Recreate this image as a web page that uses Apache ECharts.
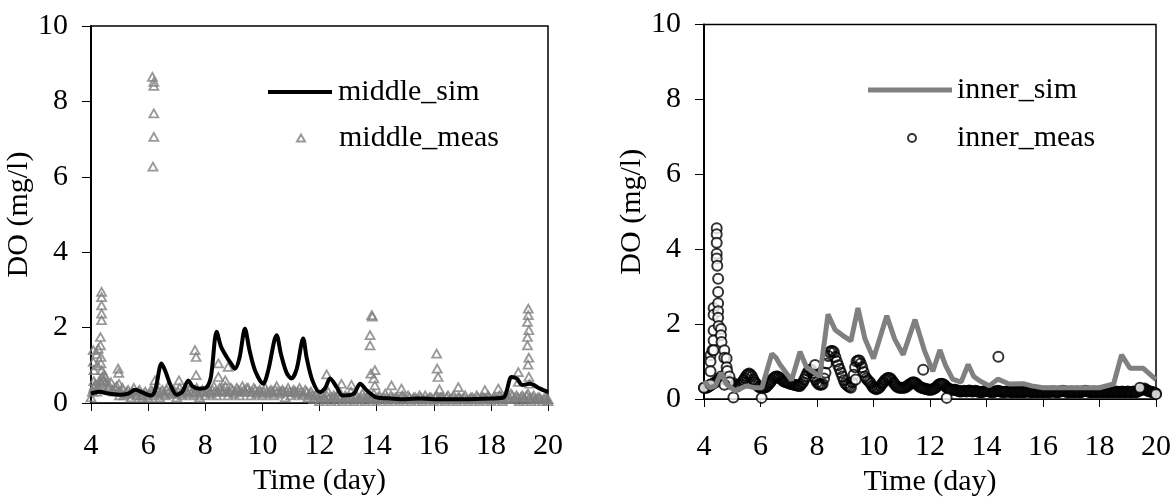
<!DOCTYPE html>
<html>

<head>
	<meta charset="UTF-8">
	<title></title>
	<style>
		html, body { margin: 0; padding: 0; background: #fff; }
		#chart { width: 1174px; height: 502px; }
	</style>
	<script src="https://cdn.jsdelivr.net/npm/echarts@6/dist/echarts.min.js"></script>
</head>

<body>
	<div id="chart"></div>
	<script>
		// tick labels shared by both panels
		var dayTicks = [4, 6, 8, 10, 12, 14, 16, 18, 20];
		var doTicks = [0, 2, 4, 6, 8, 10];

		// simulated DO, [day, mg/l], read at the turning points of the curves
		var middleSim = [
			[4.0, 0.25], [4.3, 0.3], [4.6, 0.25], [5.0, 0.22], [5.3, 0.25], [5.55, 0.35], [5.8, 0.28],
			[6.1, 0.2], [6.25, 0.35], [6.47, 1.05], [6.6, 0.85], [6.8, 0.45], [7.0, 0.22], [7.2, 0.3],
			[7.41, 0.6], [7.55, 0.45], [7.8, 0.38], [8.05, 0.42], [8.2, 0.7], [8.4, 1.89], [8.55, 1.5],
			[8.75, 1.22], [8.9, 1.05], [9.04, 0.91], [9.2, 1.2], [9.39, 1.97], [9.55, 1.4], [9.75, 0.85],
			[10.03, 0.51], [10.2, 0.85], [10.5, 1.8], [10.65, 1.3], [10.85, 0.8], [11.02, 0.65], [11.2, 0.9],
			[11.43, 1.71], [11.55, 1.2], [11.75, 0.6], [12.01, 0.29], [12.2, 0.4], [12.37, 0.65], [12.6, 0.42],
			[12.8, 0.2], [13.2, 0.25], [13.42, 0.51], [13.65, 0.34], [14.0, 0.15], [14.5, 0.12], [15.0, 0.1],
			[15.5, 0.12], [16.0, 0.1], [17.0, 0.1], [18.0, 0.12], [18.45, 0.15], [18.72, 0.69], [18.9, 0.65],
			[19.1, 0.48], [19.37, 0.51], [19.72, 0.38], [20.0, 0.29]
		];
		var innerSim = [
			[4.0, 0.48], [4.2, 0.3], [4.4, 0.35], [4.6, 0.7], [4.8, 0.4], [5.1, 0.22], [5.5, 0.35], [5.8, 0.3],
			[6.05, 0.3], [6.4, 1.21], [6.55, 1.1], [6.69, 0.92], [7.1, 0.5], [7.4, 1.26], [7.63, 0.85], [8.1, 0.6],
			[8.39, 2.26], [8.64, 1.85], [8.9, 1.7], [9.2, 1.55], [9.45, 2.43], [9.7, 1.6], [10.0, 1.08],
			[10.47, 2.22], [10.75, 1.6], [11.05, 1.18], [11.47, 2.12], [11.8, 1.3], [12.1, 0.74], [12.35, 1.31],
			[12.55, 0.9], [12.8, 0.53], [13.1, 0.45], [13.35, 0.92], [13.55, 0.6], [13.77, 0.48], [14.1, 0.35],
			[14.4, 0.53], [14.8, 0.4], [15.3, 0.41], [15.6, 0.35], [16.0, 0.3], [17.0, 0.3], [18.0, 0.3],
			[18.5, 0.4], [18.78, 1.18], [19.08, 0.82], [19.55, 0.82], [19.8, 0.65], [20.0, 0.52]
		];

		// measured DO along the bottom: readings every 0.1 day from day 4.0,
		// and the in-between readings every 0.1 day from day 4.05
		var bandStep = 0.1;
		var middleMeasBand = [
			0.15, 0.4, 0.3, 0.6, 0.45, 0.7, 0.4, 0.55, 0.3, 0.45,
			0.2, 0.4, 0.25, 0.35, 0.15, 0.4, 0.2, 0.35, 0.15, 0.3,
			0.15, 0.35, 0.2, 0.4, 0.15, 0.35, 0.2, 0.45, 0.25, 0.35,
			0.15, 0.4, 0.2, 0.35, 0.25, 0.45, 0.2, 0.4, 0.15, 0.35,
			0.2, 0.4, 0.25, 0.45, 0.2, 0.4, 0.3, 0.45, 0.2, 0.4,
			0.25, 0.4, 0.2, 0.45, 0.3, 0.4, 0.2, 0.4, 0.25, 0.35,
			0.2, 0.4, 0.25, 0.35, 0.2, 0.45, 0.25, 0.35, 0.15, 0.4,
			0.2, 0.35, 0.25, 0.4, 0.2, 0.35, 0.15, 0.3, 0.1, 0.25,
			0.05, 0.25, 0.1, 0.3, 0.05, 0.2, 0.1, 0.3, 0.05, 0.2,
			0.1, 0.3, 0.05, 0.2, 0.1, 0.25, 0.05, 0.2, 0.1, 0.25,
			0.05, 0.2, 0.1, 0.25, 0.05, 0.2, 0.1, 0.15, 0.05, 0.2,
			0.1, 0.2, 0.05, 0.15, 0.1, 0.2, 0.05, 0.2, 0.1, 0.15,
			0.05, 0.2, 0.1, 0.15, 0.05, 0.2, 0.1, 0.2, 0.05, 0.15,
			0.1, 0.2, 0.05, 0.15, 0.1, 0.2, 0.05, 0.15, 0.1, 0.2,
			0.05, 0.15, 0.1, 0.2, 0.05, 0.2, 0.1, 0.25, 0.1, 0.2,
			0.05, 0.2, 0.1, 0.25, 0.05, 0.2, 0.1, 0.15, 0.05, 0.15,
			0.05
		];
		var middleMeasBand2 = [
			0.3, 0.5, 0.45, 0.55, 0.6, 0.5, 0.45, 0.35, 0.4, 0.3,
			0.3, 0.2, 0.3, 0.25, 0.3, 0.25, 0.3, 0.2, 0.25, 0.2,
			0.25, 0.3, 0.25, 0.3, 0.3, 0.25, 0.35, 0.3, 0.3, 0.25,
			0.3, 0.25, 0.3, 0.3, 0.35, 0.3, 0.3, 0.25, 0.3, 0.3,
			0.3, 0.3, 0.35, 0.3, 0.3, 0.35, 0.35, 0.3, 0.3, 0.35,
			0.3, 0.35, 0.3, 0.35, 0.4, 0.3, 0.3, 0.35, 0.3, 0.3,
			0.3, 0.3, 0.3, 0.3, 0.35, 0.3, 0.3, 0.3, 0.3, 0.3,
			0.3, 0.3, 0.3, 0.3, 0.25, 0.3, 0.25, 0.2, 0.2, 0.15,
			0.15, 0.15, 0.2, 0.15, 0.15, 0.15, 0.2, 0.15, 0.1, 0.15,
			0.15, 0.15, 0.15, 0.1, 0.15, 0.15, 0.15, 0.15, 0.15, 0.1,
			0.15, 0.1, 0.15, 0.15, 0.1, 0.15, 0.15, 0.1, 0.15, 0.15,
			0.1, 0.15, 0.1, 0.15, 0.1, 0.15, 0.1, 0.1, 0.15, 0.1,
			0.15, 0.1, 0.15, 0.1, 0.15, 0.1, 0.15, 0.1, 0.15, 0.1,
			0.15, 0.1, 0.1, 0.15, 0.1, 0.15, 0.1, 0.15, 0.1, 0.15,
			0.1, 0.15, 0.1, 0.15, 0.1, 0.15, 0.15, 0.2, 0.15, 0.15,
			0.15, 0.15, 0.2, 0.15, 0.15, 0.1, 0.15, 0.1, 0.1, 0.1
		];
		var innerMeasBand = [
			0.3, 0.3, 0.35, 0.4, 0.45, 0.5, 0.6, 0.6, 0.5, 0.45,
			0.45, 0.35, 0.35, 0.4, 0.5, 0.62, 0.68, 0.6, 0.45, 0.35,
			0.3, 0.3, 0.32, 0.4, 0.5, 0.58, 0.6, 0.55, 0.48, 0.45,
			0.42, 0.4, 0.38, 0.36, 0.35, 0.45, 0.6, 0.75, 0.78, 0.6,
			0.45, 0.38, 0.4, 0.7, 1.15, 1.28, 1.25, 1.0, 0.8, 0.6,
			0.42, 0.35, 0.3, 0.65, 1.0, 1.03, 0.85, 0.6, 0.5, 0.42,
			0.3, 0.26, 0.3, 0.4, 0.5, 0.56, 0.55, 0.45, 0.35, 0.3,
			0.3, 0.3, 0.35, 0.4, 0.45, 0.42, 0.35, 0.3, 0.28, 0.26,
			0.25, 0.26, 0.3, 0.38, 0.41, 0.38, 0.3, 0.26, 0.25, 0.25,
			0.22, 0.2, 0.22, 0.2, 0.23, 0.2, 0.22, 0.2, 0.18, 0.2,
			0.22, 0.2, 0.18, 0.2, 0.22, 0.2, 0.18, 0.2, 0.2, 0.18,
			0.2, 0.18, 0.2, 0.18, 0.2, 0.2, 0.18, 0.2, 0.18, 0.2,
			0.18, 0.2, 0.18, 0.2, 0.2, 0.18, 0.2, 0.22, 0.2, 0.18,
			0.2, 0.18, 0.2, 0.18, 0.2, 0.22, 0.2, 0.18, 0.2, 0.18,
			0.2, 0.18, 0.2, 0.18, 0.2, 0.18, 0.2, 0.18, 0.2, 0.18,
			0.2, 0.18, 0.2, 0.18, 0.22, 0.25, 0.28, 0.22, 0.2, 0.18,
			0.15
		];
		var innerMeasBand2 = [
			0.3, 0.33, 0.38, 0.42, 0.48, 0.55, 0.6, 0.55, 0.48, 0.4,
			0.38, 0.33, 0.38, 0.45, 0.56, 0.66, 0.65, 0.52, 0.4, 0.32,
			0.3, 0.31, 0.36, 0.45, 0.55, 0.6, 0.58, 0.52, 0.46, 0.44,
			0.41, 0.39, 0.37, 0.35, 0.4, 0.52, 0.68, 0.78, 0.7, 0.52,
			0.4, 0.38, 0.55, 0.95, 1.25, 1.28, 1.12, 0.9, 0.7, 0.5,
			0.38, 0.32, 0.45, 0.85, 1.03, 0.95, 0.72, 0.55, 0.46, 0.35,
			0.28, 0.28, 0.35, 0.45, 0.53, 0.56, 0.5, 0.4, 0.32, 0.3,
			0.3, 0.32, 0.38, 0.43, 0.44, 0.38, 0.32, 0.29, 0.27, 0.25,
			0.25, 0.28, 0.34, 0.4, 0.4, 0.34, 0.28, 0.25, 0.25, 0.23,
			0.2, 0.21, 0.21, 0.22, 0.21, 0.21, 0.21, 0.19, 0.19, 0.21,
			0.21, 0.19, 0.19, 0.21, 0.21, 0.19, 0.19, 0.2, 0.19, 0.19,
			0.19, 0.19, 0.19, 0.19, 0.2, 0.19, 0.19, 0.19, 0.19, 0.19,
			0.19, 0.19, 0.19, 0.2, 0.19, 0.19, 0.21, 0.21, 0.19, 0.19,
			0.19, 0.19, 0.19, 0.19, 0.21, 0.21, 0.19, 0.19, 0.19, 0.19,
			0.19, 0.19, 0.19, 0.19, 0.19, 0.19, 0.19, 0.19, 0.19, 0.19,
			0.19, 0.19, 0.19, 0.2, 0.24, 0.26, 0.25, 0.21, 0.19, 0.17
		];

		// measured DO spikes and stray readings, [day, mg/l]
		var middleMeasPeaks = [
			[4.08, 1.4], [4.08, 1.09], [4.1, 0.87], [4.1, 0.58], [4.12, 0.45], [4.2, 1.3], [4.22, 1.0], [4.25, 1.44],
			[4.37, 2.95], [4.37, 2.81], [4.37, 2.59], [4.37, 2.37], [4.37, 2.2], [4.33, 1.75], [4.33, 1.53],
			[4.35, 1.22], [4.35, 1.05], [4.38, 0.87], [4.4, 0.69], [4.42, 0.6], [4.45, 0.75],
			[4.95, 0.91], [4.97, 0.8], [4.98, 0.51],
			[6.15, 8.65], [6.2, 8.52], [6.2, 8.41], [6.2, 7.68], [6.2, 7.06], [6.17, 6.27], [6.24, 0.6],
			[7.08, 0.6], [7.64, 1.4], [7.68, 1.22], [7.68, 0.74],
			[8.46, 1.05], [8.46, 0.69], [8.7, 0.6], [8.8, 0.96],
			[12.25, 0.76], [12.77, 0.51], [13.12, 0.48],
			[13.83, 2.33], [13.85, 2.29], [13.77, 1.8], [13.77, 1.53], [13.8, 0.78], [13.94, 0.87], [13.9, 0.65], [13.94, 0.47],
			[14.52, 0.47], [14.87, 0.38],
			[16.1, 1.31], [16.12, 0.91], [16.15, 0.69], [16.2, 0.36], [16.86, 0.42], [17.79, 0.34], [18.26, 0.38],
			[18.96, 0.82], [18.96, 0.56],
			[19.31, 2.5], [19.31, 2.33], [19.28, 2.15], [19.33, 1.93], [19.28, 1.75], [19.28, 1.53],
			[19.33, 1.2], [19.3, 1.02], [19.33, 0.69], [19.35, 0.51], [20.0, 0.1]
		];
		var innerMeasPeaks = [
			[4.0, 0.3], [4.23, 1.17], [4.23, 1.0], [4.23, 0.74], [4.23, 0.39], [4.3, 1.3],
			[4.34, 2.43], [4.34, 2.25], [4.34, 1.83], [4.34, 1.56], [4.34, 1.3],
			[4.45, 4.56], [4.45, 4.4], [4.45, 4.17], [4.45, 3.88], [4.45, 3.75], [4.47, 3.56],
			[4.5, 3.21], [4.5, 2.86], [4.5, 2.56], [4.5, 2.34], [4.5, 2.17], [4.52, 1.95],
			[4.6, 1.87], [4.6, 1.7], [4.62, 1.52], [4.72, 1.3], [4.72, 1.1], [4.8, 1.08], [4.8, 0.85],
			[4.82, 0.75], [4.9, 0.6], [4.9, 0.45], [4.72, 0.38],
			[5.04, 0.04], [6.04, 0.03], [7.93, 0.91], [9.37, 0.52], [11.76, 0.78], [12.59, 0.03],
			[14.42, 1.13], [19.43, 0.3], [20.0, 0.13]
		];

		function band(start, vals) {
			return vals.map(function (v, i) {
				return [+(start + i * bandStep).toFixed(2), v];
			});
		}

		var FONT = 'Liberation Serif';
		var FS = 30;
		var GRAY = '#808080';

		function xAxisFor(idx, margin, gap) {
			return {
				type: 'value', gridIndex: idx, min: dayTicks[0], max: dayTicks[dayTicks.length - 1], interval: 2,
				name: 'Time (day)', nameLocation: 'middle', nameGap: gap,
				nameTextStyle: { fontFamily: FONT, fontSize: FS, color: '#000' },
				axisLine: { show: true, lineStyle: { color: '#000', width: 1 } },
				axisTick: { show: true, length: 8, lineStyle: { color: '#000', width: 1 } },
				axisLabel: { margin: margin, fontFamily: FONT, fontSize: FS, color: '#000' },
				splitLine: { show: false }
			};
		}
		function yAxisFor(idx, gap) {
			return {
				type: 'value', gridIndex: idx, min: doTicks[0], max: doTicks[doTicks.length - 1], interval: 2,
				name: 'DO (mg/l)', nameLocation: 'middle', nameGap: gap,
				nameTextStyle: { fontFamily: FONT, fontSize: FS, color: '#000' },
				axisLine: { show: true, lineStyle: { color: '#000', width: 2 } },
				axisTick: { show: true, length: 9, lineStyle: { color: '#000', width: 1 } },
				axisLabel: { margin: 23, fontFamily: FONT, fontSize: FS, color: '#000' },
				splitLine: { show: false }
			};
		}
		function legendFor(item, left, top, w, h, pad) {
			return {
				data: [item], left: left, top: top, itemWidth: w, itemHeight: h, selectedMode: false,
				textStyle: { fontFamily: FONT, fontSize: FS, color: '#000', padding: [0, 0, 0, pad] }
			};
		}
		function triangles(data) {
			return {
				name: 'middle_meas', type: 'scatter', xAxisIndex: 0, yAxisIndex: 0, data: data,
				symbol: 'triangle', symbolSize: [9, 8], color: GRAY,
				itemStyle: { color: 'rgba(255,255,255,0)', borderColor: GRAY, borderWidth: 1.8 }
			};
		}
		function circles(data, fill) {
			return {
				name: 'inner_meas', type: 'scatter', xAxisIndex: 1, yAxisIndex: 1, data: data,
				symbol: 'circle', symbolSize: 10, color: '#000',
				itemStyle: { color: fill, borderColor: '#000', borderWidth: 2 }
			};
		}

		var myChart = echarts.init(document.getElementById('chart'));
		myChart.setOption({
			animation: false,
			grid: [
				{ left: 91, top: 26, width: 457, height: 377, show: true, borderColor: '#000', borderWidth: 1.5 },
				{ left: 704, top: 24.5, width: 452, height: 384, show: true, borderColor: '#000', borderWidth: 1.5 }
			],
			xAxis: [xAxisFor(0, 28, 58), xAxisFor(1, 33, 68)],
			yAxis: [yAxisFor(0, 42), yAxisFor(1, 49)],
			legend: [
				legendFor({ name: 'middle_sim', icon: 'rect' }, 263, 72, 64, 4, 1),
				legendFor({ name: 'middle_meas', icon: 'triangle' }, 291, 118, 8, 7, 29),
				legendFor({ name: 'inner_sim', icon: 'rect' }, 863, 70, 84, 5, 0),
				legendFor({ name: 'inner_meas', icon: 'circle' }, 902, 118, 8, 8, 36)
			],
			series: [
				{
					name: 'middle_sim', type: 'line', xAxisIndex: 0, yAxisIndex: 0, data: middleSim,
					showSymbol: false, smooth: 0.3, color: '#000', lineStyle: { color: '#000', width: 4 }
				},
				triangles(band(4, middleMeasBand)),
				triangles(band(4.05, middleMeasBand2)),
				triangles(middleMeasPeaks),
				{
					name: 'inner_sim', type: 'line', xAxisIndex: 1, yAxisIndex: 1, data: innerSim,
					showSymbol: false, color: GRAY, lineStyle: { color: GRAY, width: 5 }
				},
				circles(band(4, innerMeasBand), 'rgba(255,255,255,0)'),
				circles(band(4.05, innerMeasBand2), 'rgba(255,255,255,0)'),
				circles(innerMeasPeaks, '#fff')
			]
		});
	</script>
</body>

</html>
